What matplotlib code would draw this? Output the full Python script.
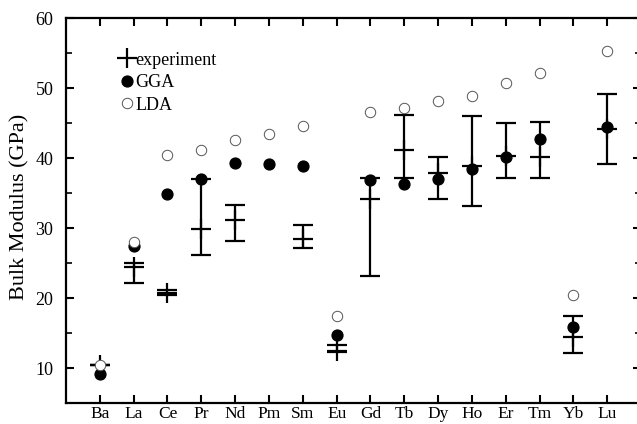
import numpy as np
import matplotlib
matplotlib.use("Agg")
import matplotlib.pyplot as plt
from matplotlib.lines import Line2D

plt.rcParams['font.family'] = ['Liberation Serif', 'DejaVu Serif']

elements = ['Ba', 'La', 'Ce', 'Pr', 'Nd', 'Pm', 'Sm', 'Eu', 'Gd', 'Tb',
            'Dy', 'Ho', 'Er', 'Tm', 'Yb', 'Lu']
# experiment: value, lower and upper end of the error bar (nan = no data)
exp_val = [10.4, 24.4, 20.7, 29.9, 31.2, np.nan, 28.4, 12.5, 34.2, 41.1,
           37.8, 38.9, 40.3, 40.2, 14.4, 44.1]
exp_lo = [10.4, 22.2, 20.5, 26.1, 28.1, np.nan, 27.2, 12.3, 23.1, 37.1,
          34.1, 33.1, 37.1, 37.1, 12.2, 39.1]
exp_hi = [10.4, 25.0, 21.1, 37.0, 33.3, np.nan, 30.5, 13.3, 37.1, 46.2,
          40.1, 46.0, 45.0, 45.2, 17.5, 49.2]
gga = [9.2, 27.5, 34.9, 37.0, 39.3, 39.2, 38.9, 14.7, 36.8, 36.3,
       37.0, 38.4, 40.2, 42.7, 15.8, 44.4]
lda = [10.4, 28.0, 40.5, 41.2, 42.6, 43.4, 44.6, 17.5, 46.6, 47.2,
       48.2, 48.9, 50.7, 52.1, 20.4, 55.3]

x = np.arange(len(elements))
ev = np.array(exp_val)
yerr = [ev - np.array(exp_lo), np.array(exp_hi) - ev]

fig = plt.figure(figsize=(6.37, 4.24), dpi=100)
ax = fig.add_axes([0.1036, 0.0495, 0.9027, 0.908])

ax.errorbar(x, ev, yerr=yerr, fmt='none', ecolor='black', elinewidth=1.6,
            capsize=7, capthick=1.6, zorder=2)
ax.plot(x, ev, linestyle='none', marker='+', markersize=14.5,
        markeredgewidth=1.6, color='black', zorder=2)
ax.plot(x, gga, linestyle='none', marker='o', markersize=7.8,
        color='black', zorder=3)
ax.plot(x, lda, linestyle='none', marker='o', markersize=7.5,
        markerfacecolor='white', markeredgecolor='#555555',
        markeredgewidth=0.7, zorder=4)

ax.set_xlim(-1, 16)
ax.set_ylim(5, 60)
ax.set_xticks(x)
ax.set_xticklabels(elements)
ax.set_yticks([10, 20, 30, 40, 50, 60])
ax.set_yticks([5, 15, 25, 35, 45, 55], minor=True)
ax.tick_params(axis='x', which='both', direction='in', top=True, bottom=True,
               length=6, width=1.5, labelsize=12.5, pad=2)
ax.tick_params(axis='y', which='major', direction='in', left=True, right=True,
               length=6, width=1.5, labelsize=13, pad=9)
ax.tick_params(axis='y', which='minor', direction='in', left=True, right=True,
               length=4, width=1.2)
for side in ['left', 'bottom', 'top']:
    ax.spines[side].set_linewidth(1.6)
ax.spines['right'].set_visible(False)

ax.set_ylabel('Bulk Modulus (GPa)', fontsize=16)
ax.yaxis.set_label_coords(-0.063, 0.51)

handles = [
    Line2D([], [], linestyle='none', marker='+', markersize=14.5,
           markeredgewidth=1.6, color='black'),
    Line2D([], [], linestyle='none', marker='o', markersize=7.8,
           color='black'),
    Line2D([], [], linestyle='none', marker='o', markersize=7.5,
           markerfacecolor='white', markeredgecolor='#555555',
           markeredgewidth=0.7),
]
ax.legend(handles, ['experiment', 'GGA', 'LDA'], loc='upper left',
          bbox_to_anchor=(0.077, 0.936), frameon=False, fontsize=13,
          handlelength=0.8, handletextpad=0.1, labelspacing=0.3,
          borderpad=0)

fig.savefig('out.png', dpi=100)
